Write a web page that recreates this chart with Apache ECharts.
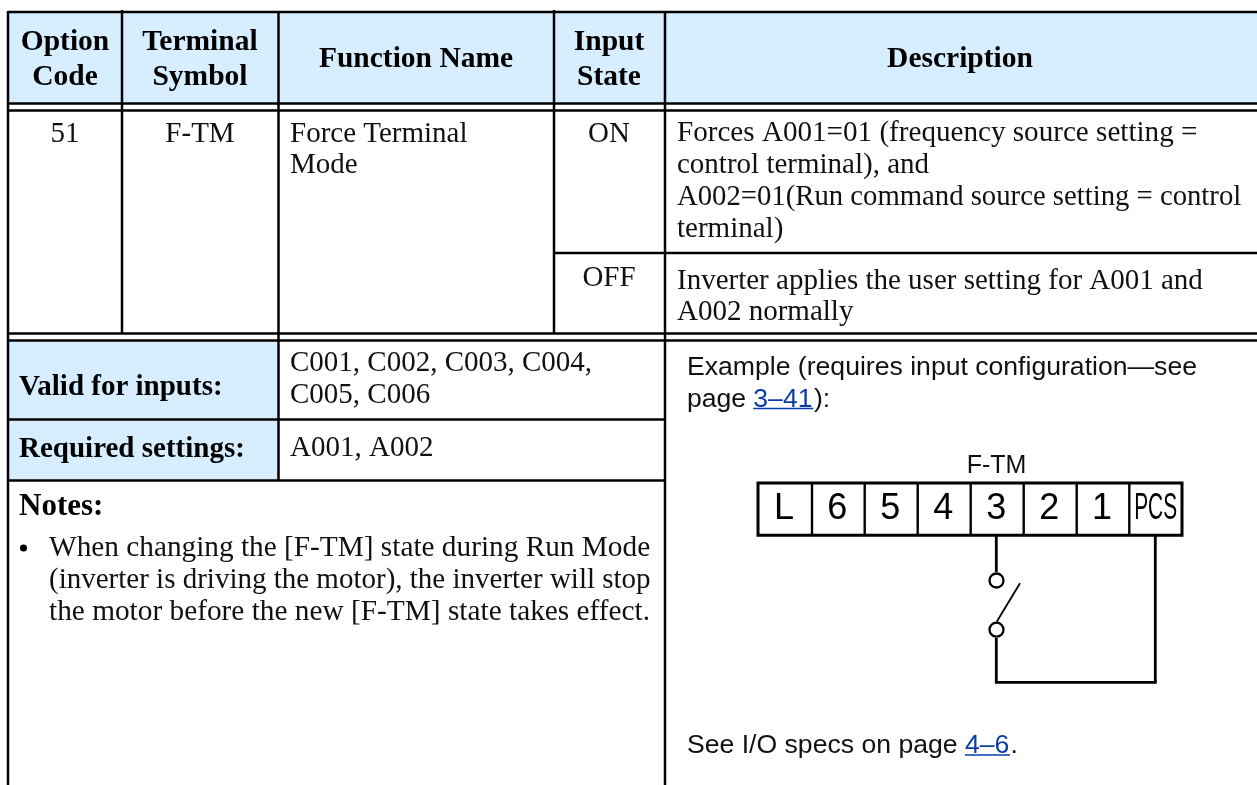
<!DOCTYPE html>
<html>
<head>
<meta charset="utf-8">
<style>html,body{margin:0;padding:0;background:#fff}#main{width:1257px;height:785px}</style>
<script src="https://cdn.jsdelivr.net/npm/echarts@6/dist/echarts.min.js"></script>
</head>
<body>
<div id="main"></div>
<script>
// table content
var headers = [['Option', 'Code'], ['Terminal', 'Symbol'], ['Function Name'], ['Input', 'State'], ['Description']];
var optionCode = '51';
var terminalSymbol = 'F-TM';
var functionName = ['Force Terminal', 'Mode'];
var inputStates = ['ON', 'OFF'];
var descOn = ['Forces A001=01 (frequency source setting =', 'control terminal), and', 'A002=01(Run command source setting = control', 'terminal)'];
var descOff = ['Inverter applies the user setting for A001 and', 'A002 normally'];
var validLabel = 'Valid for inputs:';
var validValues = ['C001, C002, C003, C004,', 'C005, C006'];
var requiredLabel = 'Required settings:';
var requiredValues = 'A001, A002';
var notesLabel = 'Notes:';
var notes = ['When changing the [F-TM] state during Run Mode', '(inverter is driving the motor), the inverter will stop', 'the motor before the new [F-TM] state takes effect.'];
var exampleText = ['Example (requires input configuration\u2014see', 'page', '3\u201341', '):'];
var specsText = ['See I/O specs on page', '4\u20136', '.'];
var terminals = ['L', '6', '5', '4', '3', '2', '1', 'PCS'];

var serif = '"Liberation Serif", "Times New Roman", serif';
var sans = '"Liberation Sans", Arial, sans-serif';
var BLUE = '#d6eeff', LINK = '#0a3ca8', INK = '#111';
var BODY = 29, HEAD = 29.5, SANS = 26.6;
var els = [];

function rect(x, y, w, h, fill) {
    els.push({ type: 'rect', shape: { x: x, y: y, width: w, height: h }, style: { fill: fill } });
}
function line(x1, y1, x2, y2, w, c) {
    els.push({ type: 'line', shape: { x1: x1, y1: y1, x2: x2, y2: y2 }, style: { stroke: c || '#000', lineWidth: w || 2 } });
}
function text(x, y, str, o) {
    o = o || {};
    var el = {
        type: 'text', x: x, y: y,
        style: {
            text: str, fill: o.color || INK,
            font: (o.bold ? 'bold ' : '') + (o.size || BODY) + 'px ' + (o.family || serif),
            textAlign: o.align || 'left', textVerticalAlign: 'middle'
        }
    };
    if (o.scaleX) { el.scaleX = o.scaleX; }
    els.push(el);
}
function lines(x, ys, arr, o) {
    arr.forEach(function (s, i) { text(x, ys[i], s, o); });
}

// header and left side fills
rect(8, 12, 1249, 91, BLUE);
rect(8, 340, 270, 140, BLUE);

// grid
line(8, 12, 1257, 12, 2.5);
line(8, 103.5, 1257, 103.5, 2.5);
line(8, 110.5, 1257, 110.5, 2.5);
line(554, 253, 1257, 253, 2.5);
line(8, 333.5, 1257, 333.5, 2.5);
line(8, 340.5, 1257, 340.5, 2.5);
line(8, 419.5, 665, 419.5, 2.5);
line(8, 480.5, 665, 480.5, 2.5);
line(8, 11, 8, 785, 2.5);
line(122, 10, 122, 334, 2.5);
line(278.5, 11, 278.5, 481, 2.5);
line(554, 10, 554, 334, 2.5);
line(665, 11, 665, 785, 2.5);

// header row
var headX = [65, 200, 416, 609, 960];
headers.forEach(function (h, i) {
    var ys = h.length === 2 ? [42, 77] : [59];
    lines(headX[i], ys, h, { bold: true, size: HEAD, align: 'center', color: '#000' });
});

// body row
text(65, 134, optionCode, { align: 'center' });
text(200, 134, terminalSymbol, { align: 'center' });
lines(290, [134, 165], functionName);
text(609, 134, inputStates[0], { align: 'center' });
text(609, 278, inputStates[1], { align: 'center' });
text(677, 133, descOn[0], { scaleX: 1.004 });
text(677, 165, descOn[1]);
text(677, 197, descOn[2], { scaleX: 0.99 });
text(677, 229, descOn[3]);
lines(677, [281, 312], descOff);

// lower left
text(19, 388, validLabel, { bold: true, size: 29, color: '#000' });
lines(290, [363, 395], validValues);
text(19, 450, requiredLabel, { bold: true, size: 29, color: '#000' });
text(290, 448, requiredValues);
text(19, 507, notesLabel, { bold: true, size: 31, color: '#000' });
els.push({ type: 'circle', shape: { cx: 23.5, cy: 548, r: 3.5 }, style: { fill: '#000' } });
text(49, 548, notes[0], { scaleX: 1.01 });
text(49, 580, notes[1]);
text(49, 612, notes[2], { scaleX: 1.011 });

// lower right text
var sansOpt = { family: sans, size: SANS };
var linkOpt = { family: sans, size: SANS, color: LINK };
text(687, 368, exampleText[0], sansOpt);
text(687, 400, exampleText[1], sansOpt);
text(753.3, 400, exampleText[2], linkOpt);
line(753.3, 408.5, 813.3, 408.5, 1.6, LINK);
text(814, 400, exampleText[3], sansOpt);
text(687, 746, specsText[0], sansOpt);
text(965, 746, specsText[1], linkOpt);
line(965, 755, 1010, 755, 1.6, LINK);
text(1010.5, 746, specsText[2], sansOpt);

// terminal strip
var divX = [758, 812, 864.7, 917.7, 970.7, 1023.7, 1076.7, 1129.3, 1182];
text(996.6, 466, terminalSymbol, { family: sans, size: 25, align: 'center' });
terminals.forEach(function (t, i) {
    var cx = (divX[i] + divX[i + 1]) / 2;
    if (t.length > 1) {
        text(cx, 509, t, { family: sans, size: 36, align: 'center', scaleX: 0.58, color: '#000' });
    } else {
        text(cx - 1, 509, t, { family: sans, size: 36, align: 'center', color: '#000' });
    }
    if (i > 0) { line(divX[i], 483, divX[i], 535, 2.4); }
});
els.push({ type: 'rect', shape: { x: 758, y: 483, width: 424, height: 52.3 }, style: { fill: 'none', stroke: '#000', lineWidth: 3 } });

// switch wiring
line(996.3, 535, 996.3, 572, 2.8);
line(996.3, 638, 996.3, 682.3, 2.8);
line(994.9, 682.3, 1156.7, 682.3, 2.8);
line(1155.3, 682.3, 1155.3, 535, 2.8);
line(1020, 583.3, 996.7, 621.7, 1.8);
[580.5, 629.7].forEach(function (cy) {
    els.push({ type: 'circle', shape: { cx: 996.5, cy: cy, r: 7 }, style: { fill: '#fff', stroke: '#000', lineWidth: 2.3 } });
});

var chart = echarts.init(document.getElementById('main'));
chart.setOption({ animation: false, backgroundColor: '#fff', graphic: { elements: els } });
</script>
</body>
</html>
